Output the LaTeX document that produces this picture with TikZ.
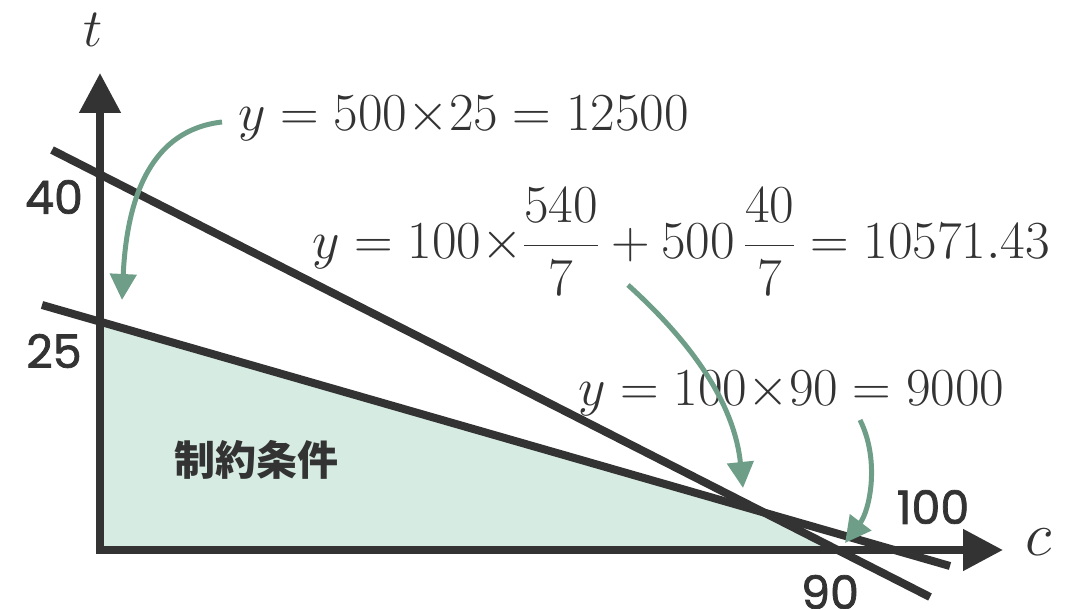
\RequirePackage{fix-cm}
\documentclass[tikz,border=0pt]{standalone}
\usepackage{amsmath}
\usepackage{fontspec}
\newfontfamily\cjk{Noto Sans CJK JP}
\newfontfamily\digitfont[FakeBold=1.6]{Poppins}
\usetikzlibrary{arrows.meta}
\definecolor{ink}{HTML}{333333}
\definecolor{arrowgreen}{HTML}{6E9E88}
\definecolor{regionfill}{HTML}{D6EBE2}
\begin{document}
\begin{tikzpicture}[x=1pt,y=-1pt,
  axisline/.style={line width=8pt, draw=ink, line join=miter},
  constraint/.style={line width=8pt, draw=ink},
  callout/.style={line width=5pt, draw=arrowgreen, -{Triangle[width=26pt,length=26pt]}},
  mathlabel/.style={text=ink, inner sep=0pt, font=\fontsize{53.5}{60}\selectfont},
  axislabel/.style={text=ink, inner sep=0pt, font=\fontsize{54}{60}\selectfont},
  ticklabel/.style={text=ink, inner sep=0pt, font=\digitfont\fontsize{46}{50}\selectfont},
  regionlabel/.style={text=ink, inner sep=0pt, font=\cjk\bfseries\fontsize{41}{46}\selectfont}]
\useasboundingbox (0,0) rectangle (1078,609);
% axis points
\coordinate (O) at (100,550);
\coordinate (T) at (100,73);
\coordinate (C) at (1003,550);
% constraint lines
\coordinate (L1a) at (52,150);
\coordinate (L1b) at (930,597);
\coordinate (L2a) at (42,305);
\coordinate (L2b) at (950,566);
\coordinate (P25) at (intersection of L2a--L2b and O--T);
\coordinate (Pint) at (intersection of L1a--L1b and L2a--L2b);
\coordinate (P90) at (intersection of L1a--L1b and O--C);
% feasible region
\fill[regionfill] (O) -- (P25) -- (Pint) -- (P90) -- cycle;
% lines
\draw[constraint] (L1a) -- (L1b);
\draw[constraint] (L2a) -- (L2b);
% axes
\draw[axisline, {Triangle[width=40pt,length=40pt]}-{Triangle[width=40pt,length=40pt]}] (T) -- (O) -- (C);
% labels
\node[axislabel] (tlab) at (93,30) {$t$};
\node[axislabel, font=\fontsize{62}{66}\selectfont] (clab) at (1039,542) {$c$};
\node[ticklabel] (l40) at (54,197) {40};
\node[ticklabel] (l25) at (54,351) {25};
\node[ticklabel] (l90) at (830,592) {90};
\node[ticklabel] (l100) at (933,507) {100};
\node[regionlabel] (region) at (256,460) {制約条件};
\node[mathlabel, anchor=west] (f1) at (238,118) {$y=500{\times}25=12500$};
\node[mathlabel, anchor=west] (f2) at (312,242) {$y=100{\times}\dfrac{540}{7}+500\,\dfrac{40}{7}=10571.43$};
\node[mathlabel, anchor=west] (f3) at (578,393) {$y=100{\times}90=9000$};
% callout arrows
\coordinate (a1s) at (222,122);
\coordinate (a1e) at (122,300);
\coordinate (a2s) at (628,285);
\coordinate (a2e) at (743,488);
\coordinate (a3s) at (860,420);
\coordinate (a3e) at (845,543);
\draw[callout] (a1s) .. controls (152,130) and (127,195) .. (a1e);
\draw[callout] (a2s) .. controls (700,350) and (735,410) .. (a2e);
\draw[callout] (a3s) .. controls (880,460) and (870,510) .. (a3e);
\end{tikzpicture}
\end{document}
